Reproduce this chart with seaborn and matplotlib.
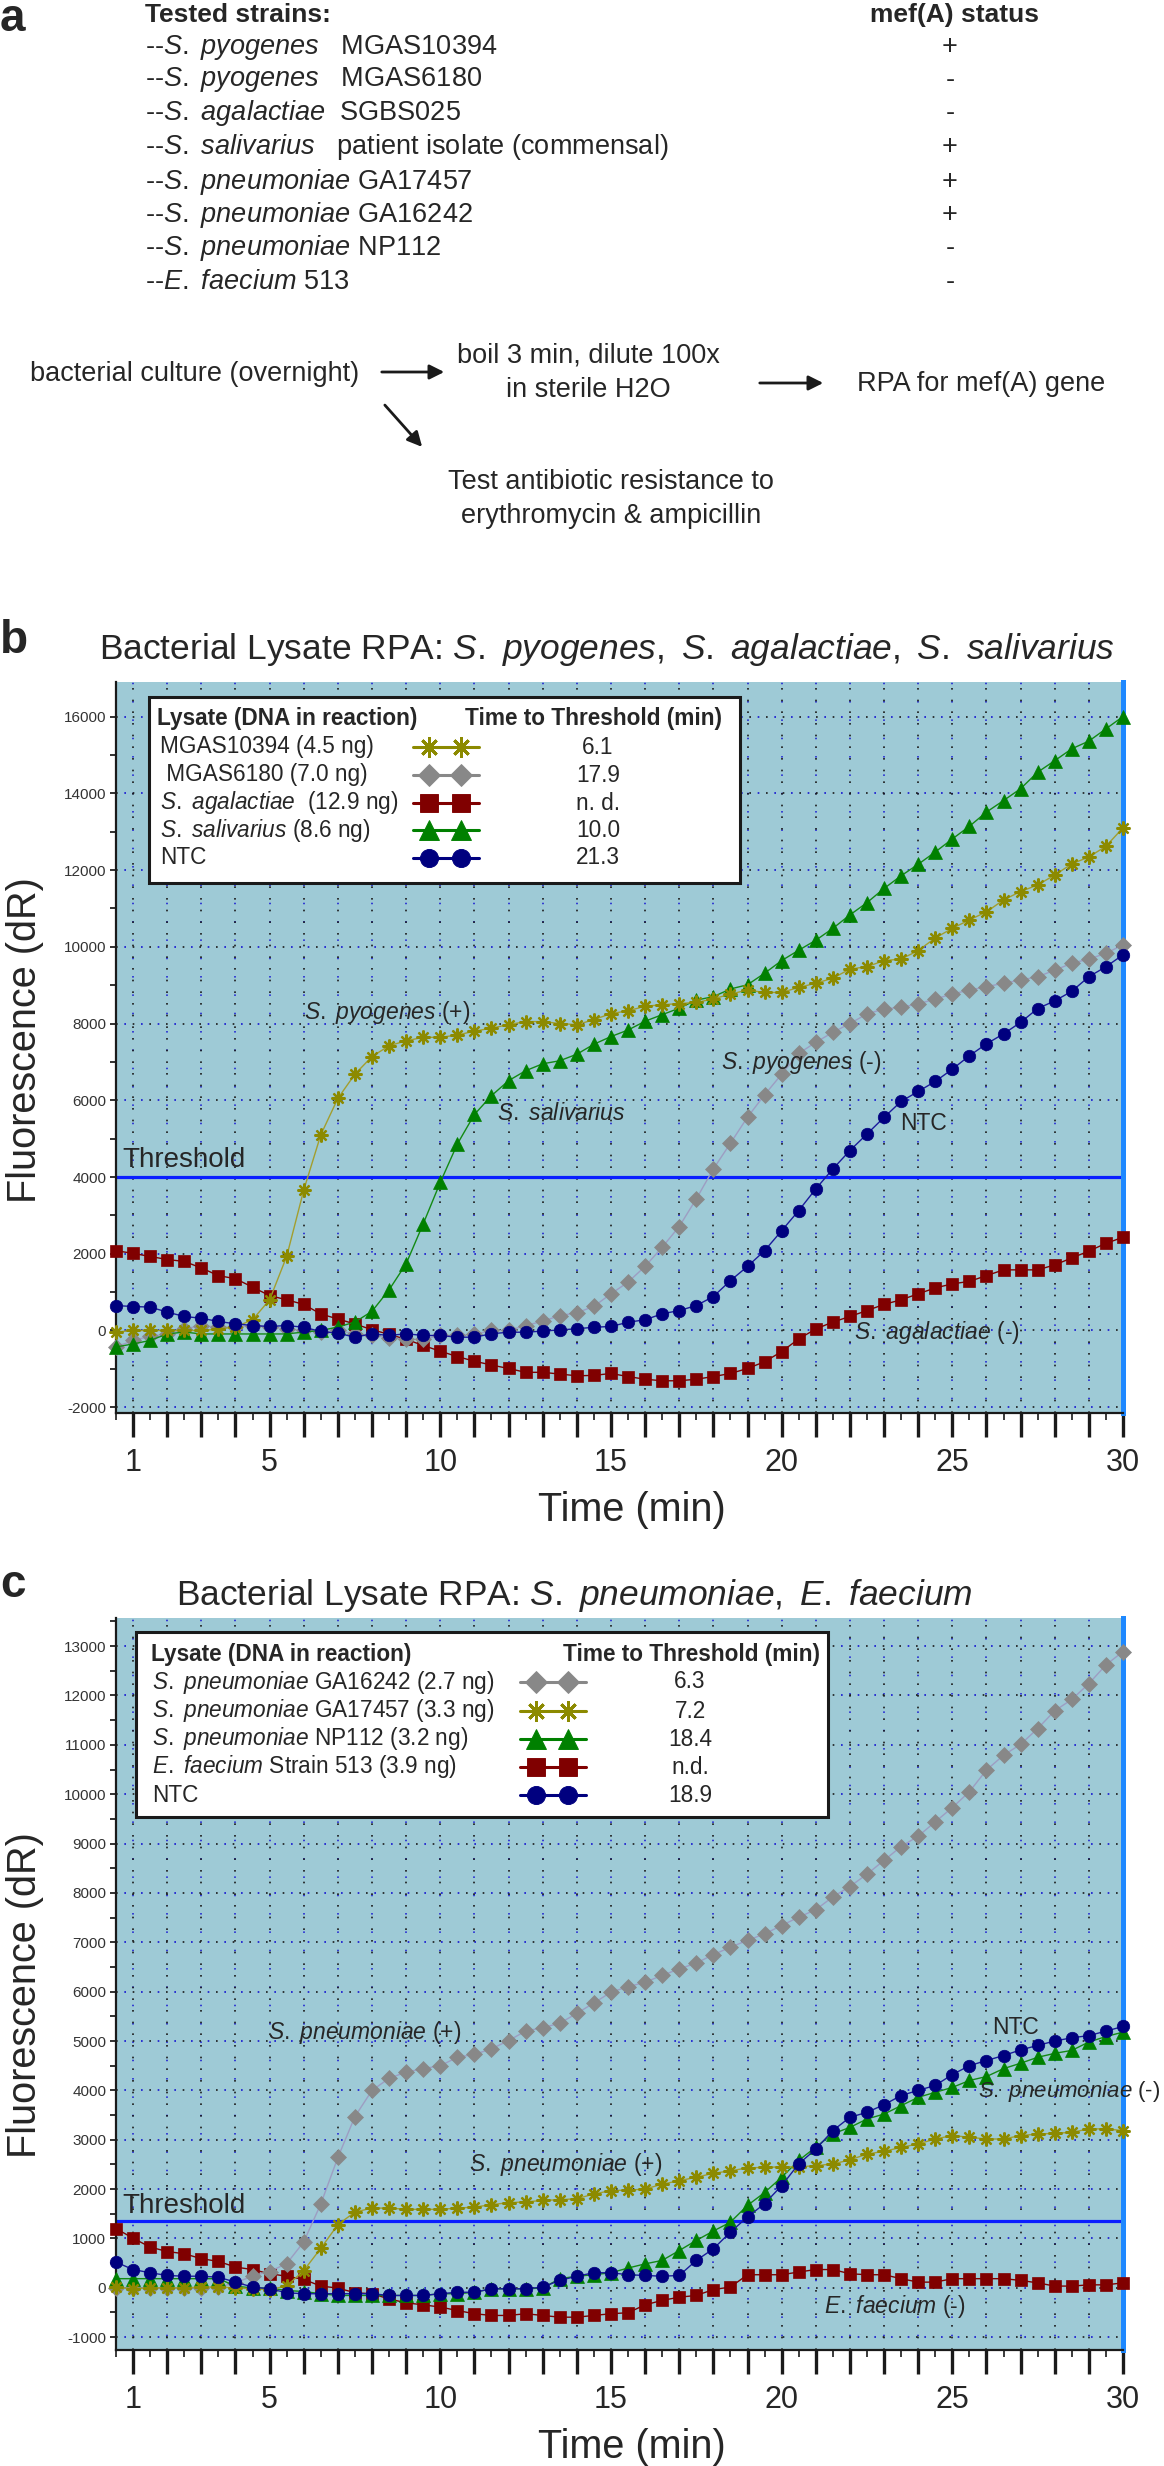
import seaborn as sns
import matplotlib.pyplot as plt
from matplotlib.lines import Line2D
from matplotlib.patches import Rectangle, FancyArrowPatch
from matplotlib.ticker import MultipleLocator, FuncFormatter

# ---------------- data ----------------
time_min = [0.5, 1.0, 1.5, 2.0, 2.5, 3.0, 3.5, 4.0, 4.5, 5.0,
            5.5, 6.0, 6.5, 7.0, 7.5, 8.0, 8.5, 9.0, 9.5, 10.0,
            10.5, 11.0, 11.5, 12.0, 12.5, 13.0, 13.5, 14.0, 14.5, 15.0,
            15.5, 16.0, 16.5, 17.0, 17.5, 18.0, 18.5, 19.0, 19.5, 20.0,
            20.5, 21.0, 21.5, 22.0, 22.5, 23.0, 23.5, 24.0, 24.5, 25.0,
            25.5, 26.0, 26.5, 27.0, 27.5, 28.0, 28.5, 29.0, 29.5, 30.0]

# panel b
b_mgas10394 = [-40, 0, 0, 0, 0, 0, 40, 90, 280, 800,
               1930, 3660, 5100, 6050, 6680, 7140, 7420, 7550, 7640, 7640,
               7700, 7800, 7880, 7970, 8050, 8050, 8000, 7970, 8100, 8260,
               8330, 8450, 8490, 8520, 8550, 8640, 8770, 8870, 8810, 8810,
               8940, 9050, 9180, 9420, 9480, 9640, 9680, 9900, 10230, 10480,
               10700, 10910, 11220, 11440, 11610, 11870, 12160, 12340, 12620, 13100]
b_mgas6180 = [-430, -260, -150, -90, 40, 130, 90, 90, 130, 90,
              40, 0, -40, 0, -90, -130, -190, -230, -230, -130,
              -130, -100, 0, 0, 130, 240, 390, 460, 630, 955,
              1260, 1670, 2170, 2710, 3430, 4210, 4880, 5560, 6140, 6680,
              7220, 7510, 7770, 8000, 8250, 8380, 8420, 8510, 8640, 8770,
              8870, 8960, 9050, 9130, 9220, 9390, 9570, 9680, 9830, 10050]
b_agalactiae = [2080, 2010, 1930, 1850, 1800, 1630, 1430, 1350, 1130, 910,
                800, 680, 430, 300, 170, 20, -100, -230, -390, -540,
                -680, -800, -900, -990, -1090, -1090, -1135, -1180, -1170, -1120,
                -1200, -1270, -1310, -1310, -1270, -1200, -1120, -990, -815, -550,
                -220, 40, 220, 365, 520, 680, 800, 955, 1110, 1215,
                1280, 1430, 1580, 1580, 1580, 1710, 1890, 2070, 2270, 2430]
b_salivarius = [-430, -350, -260, -90, -40, -90, -90, -90, -90, -90,
                -90, -40, 0, 90, 220, 500, 1060, 1740, 2780, 3860,
                4860, 5630, 6120, 6510, 6770, 6950, 7030, 7200, 7460, 7660,
                7830, 8060, 8230, 8400, 8610, 8700, 8900, 9010, 9310, 9640,
                9910, 10170, 10480, 10830, 11150, 11520, 11850, 12150, 12470, 12810,
                13140, 13510, 13810, 14120, 14550, 14850, 15160, 15360, 15680, 16000]
b_ntc = [650, 625, 610, 480, 365, 320, 235, 175, 130, 105,
         130, 85, -25, -70, -175, -85, -130, -85, -130, -130,
         -175, -175, -85, -45, -45, -15, 15, 45, 85, 105,
         215, 280, 435, 520, 650, 885, 1300, 1670, 2080, 2600,
         3125, 3690, 4210, 4690, 5120, 5555, 5970, 6230, 6490, 6810,
         7160, 7470, 7730, 8030, 8390, 8590, 8840, 9220, 9480, 9790]

# panel c
c_ga16242 = [-10, -10, 0, 0, 0, 0, 15, 100, 240, 330,
             490, 930, 1700, 2640, 3470, 4000, 4245, 4370, 4440, 4500,
             4670, 4730, 4840, 5010, 5200, 5270, 5360, 5560, 5770, 5990,
             6100, 6190, 6330, 6460, 6580, 6750, 6900, 7040, 7170, 7340,
             7510, 7660, 7920, 8130, 8380, 8660, 8940, 9150, 9440, 9730,
             10050, 10490, 10790, 11010, 11330, 11690, 11920, 12240, 12620, 12890]
c_ga17457 = [15, -20, 0, 0, 0, 15, 15, 0, -20, -35,
             35, 350, 800, 1280, 1535, 1615, 1615, 1590, 1590, 1590,
             1615, 1635, 1685, 1725, 1740, 1770, 1785, 1805, 1900, 1970,
             1980, 2000, 2100, 2170, 2240, 2320, 2370, 2430, 2440, 2450,
             2450, 2475, 2510, 2590, 2710, 2765, 2845, 2915, 3015, 3085,
             3050, 3015, 3015, 3085, 3115, 3130, 3150, 3220, 3220, 3185]
c_np112 = [185, 185, 185, 185, 185, 185, 185, 35, -5, -5,
           -55, -75, -120, -155, -155, -155, -155, -155, -155, -120,
           -120, -90, -20, -20, -20, -5, 185, 235, 265, 305,
           400, 485, 555, 755, 960, 1150, 1330, 1670, 1930, 2240,
           2580, 2850, 3120, 3250, 3420, 3520, 3690, 3860, 3960, 4060,
           4200, 4280, 4440, 4550, 4670, 4750, 4810, 4980, 5090, 5180]
c_faecium = [1200, 1005, 825, 735, 690, 590, 535, 420, 370, 285,
             235, 170, 35, -5, -100, -120, -225, -305, -345, -390,
             -460, -525, -560, -560, -525, -560, -595, -595, -560, -525,
             -505, -345, -255, -190, -155, -35, 15, 265, 265, 265,
             320, 370, 370, 285, 265, 265, 185, 115, 115, 185,
             185, 185, 185, 150, 100, 35, 35, 60, 60, 100]
c_ntc = [520, 370, 305, 250, 235, 235, 215, 115, 15, -20,
         -100, -120, -120, -120, -120, -120, -155, -155, -155, -120,
         -90, -90, -20, -20, -20, 15, 150, 235, 305, 305,
         265, 250, 235, 250, 555, 790, 1130, 1435, 1705, 2070,
         2510, 2810, 3185, 3455, 3555, 3710, 3895, 4000, 4100, 4320,
         4500, 4605, 4705, 4820, 4910, 5000, 5065, 5110, 5200, 5295]

threshold_b = 4000
threshold_c = 1350
label_minutes = [1, 5, 10, 15, 20, 25, 30]

b_legend_labels = ["MGAS10394 (4.5 ng)", " MGAS6180 (7.0 ng)",
                   r"$\mathit{S.\ agalactiae}$  (12.9 ng)",
                   r"$\mathit{S.\ salivarius}$ (8.6 ng)", "NTC"]
b_legend_tt = ["6.1", "17.9", "n. d.", "10.0", "21.3"]
c_legend_labels = [r"$\mathit{S.\ pneumoniae}$ GA16242 (2.7 ng)",
                   r"$\mathit{S.\ pneumoniae}$ GA17457 (3.3 ng)",
                   r"$\mathit{S.\ pneumoniae}$ NP112 (3.2 ng)",
                   r"$\mathit{E.\ faecium}$ Strain 513 (3.9 ng)", "NTC"]
c_legend_tt = ["6.3", "7.2", "18.4", "n.d.", "18.9"]

strains = [r"--$\mathit{S.\ pyogenes}$   MGAS10394",
           r"--$\mathit{S.\ pyogenes}$   MGAS6180",
           r"--$\mathit{S.\ agalactiae}$  SGBS025",
           r"--$\mathit{S.\ salivarius}$   patient isolate (commensal)",
           r"--$\mathit{S.\ pneumoniae}$ GA17457",
           r"--$\mathit{S.\ pneumoniae}$ GA16242",
           r"--$\mathit{S.\ pneumoniae}$ NP112",
           r"--$\mathit{E.\ faecium}$ 513"]
mef_status = ["+", "-", "-", "+", "+", "+", "-", "-"]

# ---------------- styles ----------------
STY = {
    "olive": dict(mc="#8c8a00", lc="#a39e2e", marker=(8, 2, 0), ms=10, mew=1.6),
    "grey": dict(mc="#888888", lc="#9d9dc2", marker="D", ms=8, mew=0.5),
    "red": dict(mc="#800000", lc="#800000", marker="s", ms=8.5, mew=0.5),
    "green": dict(mc="#008000", lc="#138a13", marker="^", ms=9.5, mew=0.5),
    "navy": dict(mc="#00007f", lc="#1a1a9c", marker="o", ms=9, mew=0.5),
}

sns.set_style("ticks")
plt.rcParams["font.family"] = ["Liberation Sans", "DejaVu Sans"]
plt.rcParams["mathtext.fontset"] = "custom"
plt.rcParams["mathtext.rm"] = "Liberation Sans"
plt.rcParams["mathtext.it"] = "Liberation Sans:italic"
plt.rcParams["mathtext.bf"] = "Liberation Sans:bold"

W, H = 1164, 2466
fig = plt.figure(figsize=(W / 100, H / 100), dpi=100)
fig.patch.set_facecolor("white")


def px(x, y):
    return (x / W, 1 - y / H)


def ftext(x, y, s, **kw):
    kw.setdefault("ha", "left")
    kw.setdefault("va", "center")
    kw.setdefault("zorder", 30)
    fig.text(*px(x, y), s, **kw)


def series(ax, y, key, z):
    s = STY[key]
    sns.lineplot(x=time_min, y=y, ax=ax, color=s["lc"], linewidth=1.0,
                 marker=s["marker"], markersize=s["ms"], markerfacecolor=s["mc"],
                 markeredgecolor=s["mc"], markeredgewidth=s["mew"],
                 clip_on=False, zorder=z, legend=False)


def style_axes(ax, ymin, ymax, ymajor, yminor, thr):
    ax.set_xlim(0.5, 30)
    ax.set_ylim(ymin, ymax)
    ax.set_facecolor("#9ecad6")
    ax.xaxis.set_major_locator(MultipleLocator(1))
    ax.xaxis.set_minor_locator(MultipleLocator(0.5))
    ax.xaxis.set_major_formatter(FuncFormatter(
        lambda v, p: f"{v:.0f}" if round(v) in label_minutes and abs(v - round(v)) < 1e-6 else ""))
    ax.yaxis.set_major_locator(MultipleLocator(ymajor))
    ax.yaxis.set_minor_locator(MultipleLocator(yminor))
    ax.yaxis.set_major_formatter(FuncFormatter(lambda v, p: f"{v:.0f}"))
    ax.tick_params(axis="x", which="both", bottom=True, top=False)
    ax.tick_params(axis="y", which="both", left=True, right=False)
    ax.tick_params(axis="x", which="major", length=17, width=2.4, color="#1a1a1a",
                   direction="out", labelsize=22, pad=8)
    ax.tick_params(axis="x", which="minor", length=5, width=1.2, color="#1a1a1a", direction="out")
    ax.tick_params(axis="y", which="both", length=4, width=1.3, color="#222222",
                   direction="out", labelsize=11, labelcolor="#333333", pad=3)
    ax.set_xlabel("")
    ax.set_ylabel("")
    ax.spines["top"].set_visible(False)
    ax.spines["right"].set_color("#1e88ff")
    ax.spines["right"].set_linewidth(3.6)
    ax.spines["left"].set_color("#1a1a1a")
    ax.spines["left"].set_linewidth(1.6)
    ax.spines["bottom"].set_color("#1a1a1a")
    ax.spines["bottom"].set_linewidth(1.6)
    # dotted grid (black dots + offset blue dots)
    ax.grid(axis="x", which="major", color="#1a1a1a", linestyle=(0, (1, 6)), linewidth=1.2)
    ax.grid(axis="y", which="major", color="#1a1a1a", linestyle=(0, (1, 9)), linewidth=1.2)
    ax.set_axisbelow(True)
    for v in ax.get_yticks():
        if ymin < v < ymax:
            ax.axhline(v, color="#1414d2", linestyle=(5, (1, 9)), linewidth=1.2, zorder=0.5)
    for v in ax.get_xticks():
        if 0.5 < v < 30:
            ax.axvline(v, color="#1414d2", linestyle=(3, (1, 11)), linewidth=1.1, zorder=0.5)
    ax.axhline(thr, color="#0a1eff", linewidth=2.3, zorder=1)


def lysate_legend(box, head_y, col1_x, col2_x, row_x, row_ys, labels, keys, values, val_x, samp):
    l, t, r, b = box
    fig.add_artist(Rectangle(px(l, b), (r - l) / W, (b - t) / H, transform=fig.transFigure,
                             facecolor="white", edgecolor="#1a1a1a", linewidth=2.2, zorder=25))
    ftext(col1_x, head_y, "Lysate (DNA in reaction)", fontsize=16.3, fontweight="bold")
    ftext(col2_x, head_y, "Time to Threshold (min)", fontsize=16.3, fontweight="bold")
    s0, s1, m0, m1 = samp
    for yy, lab, key, val in zip(row_ys, labels, keys, values):
        s = STY[key]
        ftext(row_x, yy, lab, fontsize=16.3)
        ftext(val_x, yy, val, fontsize=16.3, ha="center")
        fig.add_artist(Line2D([s0 / W, s1 / W], [1 - yy / H] * 2, transform=fig.transFigure,
                              color=s["mc"], linewidth=2.2, zorder=27))
        fig.add_artist(Line2D([m0 / W, m1 / W], [1 - yy / H] * 2, transform=fig.transFigure,
                              linestyle="none", marker=s["marker"], markersize=s["ms"] * 1.45,
                              markerfacecolor=s["mc"], markeredgecolor=s["mc"],
                              markeredgewidth=s["mew"] * 1.3, zorder=28))


def arrow(x0, y0, x1, y1):
    fig.add_artist(FancyArrowPatch(px(x0, y0), px(x1, y1), transform=fig.transFigure,
                                   arrowstyle="-|>", mutation_scale=22, linewidth=2,
                                   color="#1a1a1a"))


# ---------------- panel a ----------------
ftext(0, 19, "a", fontsize=33, fontweight="bold")
ftext(145, 15, "Tested strains:", fontsize=19, fontweight="bold")
ftext(955, 15, "mef(A) status", fontsize=19, fontweight="bold", ha="center")
strain_ys = [47, 80, 113, 147, 182, 215, 248, 282]
for yy, s, m in zip(strain_ys, strains, mef_status):
    ftext(145, yy, s, fontsize=19.5)
    ftext(950, yy, m, fontsize=19.5, ha="center")

ftext(30, 374, "bacterial culture (overnight)", fontsize=19.5)
arrow(379, 372, 447, 372)
ftext(588, 356, "boil 3 min, dilute 100x", fontsize=19.5, ha="center")
ftext(588, 390, "in sterile H2O", fontsize=19.5, ha="center")
arrow(757, 383, 826, 383)
ftext(857, 384, "RPA for mef(A) gene", fontsize=19.5)
arrow(383, 403, 424, 449)
ftext(611, 482, "Test antibiotic resistance to", fontsize=19.5, ha="center")
ftext(611, 516, "erythromycin & ampicillin", fontsize=19.5, ha="center")

# ---------------- panel b ----------------
ax_b = fig.add_axes([116 / W, 1 - 1413 / H, 1007 / W, 731 / H])
series(ax_b, b_agalactiae, "red", 3)
series(ax_b, b_mgas6180, "grey", 4)
series(ax_b, b_salivarius, "green", 5)
series(ax_b, b_mgas10394, "olive", 6)
series(ax_b, b_ntc, "navy", 7)
style_axes(ax_b, -2150, 16900, 2000, 1000, threshold_b)

ftext(0, 641, "b", fontsize=33, fontweight="bold")
ftext(607, 650, r"Bacterial Lysate RPA: $\mathit{S.\ pyogenes,\ S.\ agalactiae,\ S.\ salivarius}$",
      fontsize=25.5, ha="center")
ftext(25, 1040, "Fluorescence (dR)", fontsize=28.5, rotation=90, ha="center")
ftext(632, 1510, "Time (min)", fontsize=28.5, ha="center")
ftext(122, 1160, "Threshold", fontsize=20)
ftext(304, 1012, r"$\mathit{S.\ pyogenes}$ (+)", fontsize=16.5)
ftext(497, 1113, r"$\mathit{S.\ salivarius}$", fontsize=16.5)
ftext(721, 1062, r"$\mathit{S.\ pyogenes}$ (-)", fontsize=16.5)
ftext(900, 1123, "NTC", fontsize=16.5)
ftext(854, 1333, r"$\mathit{S.\ agalactiae}$ (-)", fontsize=16.5)

lysate_legend((149, 697, 740, 883), 718, 157, 465, 160, [747, 775, 803, 830, 858],
              b_legend_labels, ["olive", "grey", "red", "green", "navy"], b_legend_tt,
              598, (413, 479, 429, 461))

# ---------------- panel c ----------------
ax_c = fig.add_axes([116 / W, 1 - 2350 / H, 1007 / W, 732 / H])
series(ax_c, c_faecium, "red", 3)
series(ax_c, c_ga16242, "grey", 4)
series(ax_c, c_np112, "green", 5)
series(ax_c, c_ga17457, "olive", 6)
series(ax_c, c_ntc, "navy", 7)
style_axes(ax_c, -1260, 13570, 1000, 500, threshold_c)

ftext(0, 1585, "c", fontsize=33, fontweight="bold")
ftext(574, 1595, r"Bacterial Lysate RPA: $\mathit{S.\ pneumoniae,\ E.\ faecium}$",
      fontsize=25.5, ha="center")
ftext(25, 1995, "Fluorescence (dR)", fontsize=28.5, rotation=90, ha="center")
ftext(632, 2447, "Time (min)", fontsize=28.5, ha="center")
ftext(122, 2206, "Threshold", fontsize=20)
ftext(268, 2032, r"$\mathit{S.\ pneumoniae}$ (+)", fontsize=16.5)
ftext(469, 2165, r"$\mathit{S.\ pneumoniae}$ (+)", fontsize=16.5)
ftext(992, 2028, "NTC", fontsize=16.5)
ftext(1160, 2092, r"$\mathit{S.\ pneumoniae}$ (-)", fontsize=16, ha="right")
ftext(824, 2307, r"$\mathit{E.\ faecium}$ (-)", fontsize=16.5)

lysate_legend((136, 1632, 828, 1817), 1654, 151, 563, 152, [1682, 1711, 1739, 1767, 1795],
              c_legend_labels, ["grey", "olive", "green", "red", "navy"], c_legend_tt,
              690, (520, 586, 536, 568))

fig.savefig("out.png", dpi=100)
